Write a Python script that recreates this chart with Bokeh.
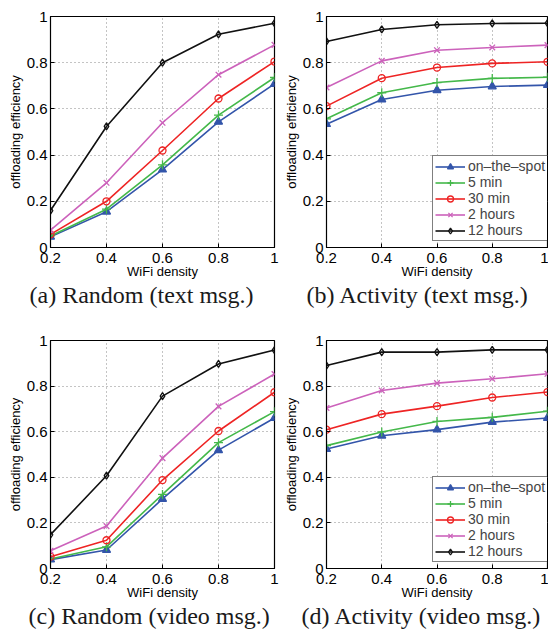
from bokeh.plotting import figure
from bokeh.layouts import column, row
from bokeh.models import Range1d, FixedTicker, Title
from bokeh.embed import file_html
from bokeh.resources import INLINE

# ---------------- data ----------------
wifi_density = [0.2, 0.4, 0.6, 0.8, 1.0]
series_names = ["on\u2013the\u2013spot", "5 min", "30 min", "2 hours", "12 hours"]

random_text = {
    "on-the-spot": [0.046, 0.155, 0.337, 0.544, 0.708],
    "5 min":       [0.050, 0.166, 0.358, 0.573, 0.736],
    "30 min":      [0.057, 0.200, 0.420, 0.645, 0.805],
    "2 hours":     [0.075, 0.280, 0.540, 0.748, 0.877],
    "12 hours":    [0.160, 0.524, 0.800, 0.923, 0.971],
}
activity_text = {
    "on-the-spot": [0.534, 0.641, 0.681, 0.697, 0.703],
    "5 min":       [0.557, 0.670, 0.714, 0.732, 0.737],
    "30 min":      [0.612, 0.733, 0.779, 0.797, 0.804],
    "2 hours":     [0.693, 0.808, 0.854, 0.866, 0.876],
    "12 hours":    [0.892, 0.944, 0.964, 0.970, 0.971],
}
random_video = {
    "on-the-spot": [0.039, 0.081, 0.305, 0.519, 0.660],
    "5 min":       [0.042, 0.095, 0.325, 0.552, 0.688],
    "30 min":      [0.052, 0.124, 0.388, 0.603, 0.773],
    "2 hours":     [0.078, 0.186, 0.484, 0.711, 0.853],
    "12 hours":    [0.148, 0.407, 0.756, 0.897, 0.958],
}
activity_video = {
    "on-the-spot": [0.524, 0.582, 0.609, 0.642, 0.660],
    "5 min":       [0.539, 0.599, 0.645, 0.663, 0.690],
    "30 min":      [0.609, 0.677, 0.712, 0.750, 0.774],
    "2 hours":     [0.704, 0.781, 0.813, 0.832, 0.854],
    "12 hours":    [0.890, 0.949, 0.949, 0.959, 0.959],
}
x_ticks = [0.2, 0.4, 0.6, 0.8, 1.0]
x_tick_labels = {0.2: "0.2", 0.4: "0.4", 0.6: "0.6", 0.8: "0.8", 1.0: "1"}
y_ticks = [0, 0.2, 0.4, 0.6, 0.8, 1.0]
y_tick_labels = {0: "0", 0.2: "0.2", 0.4: "0.4", 0.6: "0.6", 0.8: "0.8", 1.0: "1"}
captions = ["(a)  Random (text msg.)", "(b)  Activity (text msg.)",
            "(c)  Random (video msg.)", "(d)  Activity (video msg.)"]

# ---------------- styles ----------------
keys = ["on-the-spot", "5 min", "30 min", "2 hours", "12 hours"]
colors = ["#3355aa", "#44b84a", "#ee2424", "#cc62bb", "#111111"]
markers = ["triangle", "cross", "circle", "x", "diamond"]
msizes = [8, 9, 7, 8, 7]
fills = [True, False, False, False, False]
SANS = "Liberation Sans"


def make_panel(data, w, h, bl, br, bt, bb, caption, cap_off, legend, leg_loc=None):
    p = figure(width=w, height=h, output_backend="svg", toolbar_location=None,
               x_range=Range1d(0.2, 1.0), y_range=Range1d(0, 1.0),
               min_border_left=bl, min_border_right=br,
               min_border_top=bt, min_border_bottom=bb)
    p.background_fill_color = "white"
    p.border_fill_color = "white"
    p.outline_line_color = "black"
    p.outline_line_width = 1.2
    for i, k in enumerate(keys):
        kw = {}
        if legend:
            kw["legend_label"] = series_names[i]
        p.line(wifi_density, data[k], line_color=colors[i], line_width=1.6, **kw)
        p.scatter(wifi_density, data[k], marker=markers[i], size=msizes[i],
                  line_color=colors[i], line_width=1.3,
                  fill_color=colors[i] if fills[i] else None, **kw)
    p.xaxis.ticker = FixedTicker(ticks=x_ticks)
    p.yaxis.ticker = FixedTicker(ticks=y_ticks)
    p.xaxis.major_label_overrides = x_tick_labels
    p.yaxis.major_label_overrides = y_tick_labels
    for ax in (p.xaxis, p.yaxis):
        ax.major_tick_in = 4
        ax.major_tick_out = 0
        ax.minor_tick_in = 0
        ax.minor_tick_out = 0
        ax.axis_line_color = "black"
        ax.major_tick_line_color = "black"
        ax.major_label_text_font = SANS
        ax.major_label_text_font_size = "15px"
        ax.major_label_text_color = "black"
        ax.axis_label_text_font = SANS
        ax.axis_label_text_font_size = "13px"
        ax.axis_label_text_font_style = "normal"
        ax.axis_label_text_color = "black"
    p.xaxis.major_label_standoff = 5
    p.yaxis.major_label_standoff = 3
    p.xaxis.axis_label_standoff = -2
    p.yaxis.axis_label_standoff = 1
    p.xaxis.axis_label = "WiFi density"
    p.yaxis.axis_label = "offloading efficiency"
    p.xgrid.ticker = FixedTicker(ticks=x_ticks)
    p.ygrid.ticker = FixedTicker(ticks=y_ticks)
    for g in (p.xgrid, p.ygrid):
        g.grid_line_color = "#888888"
        g.grid_line_dash = "1 3"
        g.grid_line_width = 1
    p.add_layout(Title(text=caption, align="left", offset=cap_off,
                       text_font="Liberation Serif", text_font_size="24px",
                       text_font_style="normal", text_color="#1a1a1a",
                       standoff=0, vertical_align="top"), "below")
    if legend:
        lg = p.legend[0]
        lg.location = leg_loc
        lg.border_line_color = "black"
        lg.border_line_width = 1
        lg.background_fill_color = "white"
        lg.background_fill_alpha = 1
        lg.label_text_font = SANS
        lg.label_text_font_size = "14px"
        lg.label_standoff = 3
        lg.glyph_width = 30
        lg.glyph_height = 15
        lg.label_height = 15
        lg.spacing = 0
        lg.padding = 2
        lg.margin = 0
        lg.label_text_line_height = 1.0
    return p


# the page template puts the layout at the top-left corner of the window
pa = make_panel(random_text, 280, 320, 50, 6, 14, 73, captions[0], -21, False)
pb = make_panel(activity_text, 268, 320, 43, 1, 16, 73, captions[1], -20, True, (106, 6))
pc = make_panel(random_video, 280, 318, 50, 6, 16, 70, captions[2], -22, False)
pd = make_panel(activity_video, 268, 318, 43, 1, 20, 70, captions[3], -25, True, (106, 6))

layout = column(row(pa, pb), row(pc, pd))
open("out.html", "w").write(file_html(layout, INLINE))
